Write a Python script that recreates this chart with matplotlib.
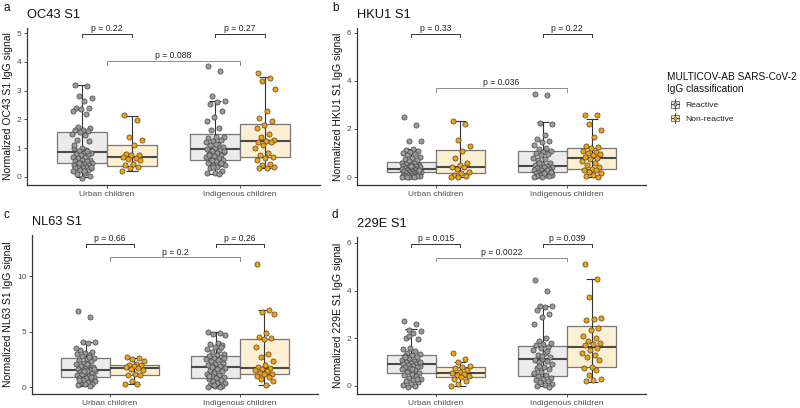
import numpy as np
import matplotlib
matplotlib.use("Agg")
import matplotlib.pyplot as plt
from matplotlib.patches import Patch, Rectangle
from matplotlib.lines import Line2D
from matplotlib.legend_handler import HandlerBase

plt.rcParams['font.family'] = ['Liberation Sans', 'DejaVu Sans']

groups = ["Urban children", "Indigenous children"]
classes = ["Reactive", "Non-reactive"]
titles = ["OC43 S1", "HKU1 S1", "NL63 S1", "229E S1"]
letters = ["a", "b", "c", "d"]
ylabels = ["Normalized OC43 S1 IgG signal", "Normalized HKU1 S1 IgG signal",
           "Normalized NL63 S1 IgG signal", "Normalized 229E S1 IgG signal"]

# box stats per panel: [urban-reactive, urban-nonreactive, indig-reactive, indig-nonreactive]
# (whislo, q1, med, q3, whishi)
box_oc43 = [(0.0, 0.50, 0.88, 1.55, 3.20), (0.22, 0.38, 0.70, 1.10, 2.12),
            (0.10, 0.58, 0.98, 1.48, 2.65), (0.30, 0.70, 1.24, 1.85, 3.47)]
box_hku1 = [(0.0, 0.22, 0.35, 0.62, 1.15), (0.0, 0.18, 0.42, 1.12, 2.35),
            (0.0, 0.20, 0.45, 1.10, 2.28), (0.0, 0.35, 0.80, 1.20, 2.40)]
box_nl63 = [(0.05, 0.90, 1.50, 2.60, 4.05), (0.25, 1.05, 1.70, 1.95, 2.65),
            (0.0, 0.85, 1.80, 2.80, 5.00), (0.15, 1.15, 1.70, 4.30, 6.95)]
box_229e = [(0.0, 0.55, 0.93, 1.30, 2.38), (0.0, 0.38, 0.56, 0.78, 1.02),
            (0.0, 0.42, 1.13, 1.67, 3.37), (0.18, 0.80, 1.62, 2.50, 4.50)]

# individual values
oc43_ur = [3.2, 3.15, 2.8, 2.75, 2.65, 2.4, 2.4, 2.35, 2.3, 2.2, 1.75, 1.7, 1.65, 1.65, 1.6, 1.55,
           1.5, 1.45, 1.3, 1.25, 1.0, 1.0, 0.95, 0.9, 0.85, 0.85, 0.8, 0.8, 0.75, 0.7, 0.7, 0.65,
           0.6, 0.6, 0.55, 0.55, 0.5, 0.5, 0.45, 0.45, 0.4, 0.4, 0.4, 0.35, 0.35, 0.3, 0.3, 0.3,
           0.25, 0.25, 0.2, 0.15, 0.1, 0.05, -0.02, 1.1, 0.9, 0.5, 0.35, 0.2]
oc43_un = [2.17, 1.98, 1.4, 1.3, 1.12, 0.8, 0.78, 0.75, 0.7, 0.65, 0.62, 0.6, 0.45, 0.4, 0.35, 0.3, 0.22]
oc43_ir = [3.87, 3.67, 2.82, 2.65, 2.62, 2.55, 2.28, 2.08, 1.95, 1.7, 1.65, 1.4, 1.38, 1.35, 1.3,
           1.25, 1.2, 1.15, 1.1, 1.05, 1.0, 0.98, 0.95, 0.9, 0.88, 0.85, 0.8, 0.75, 0.72, 0.7, 0.65,
           0.6, 0.58, 0.55, 0.5, 0.45, 0.42, 0.4, 0.35, 0.3, 0.2, 0.15, 0.12, 0.1, 0.6, 0.9, 1.15,
           0.75, 0.5, 0.35]
oc43_in = [3.6, 3.45, 3.35, 3.05, 2.3, 2.05, 1.95, 1.82, 1.7, 1.5, 1.4, 1.3, 1.25, 1.22, 1.2, 1.1,
           1.02, 0.85, 0.75, 0.7, 0.65, 0.6, 0.45, 0.4, 0.35, 0.3, 0.3]

hku1_ur = [2.5, 2.15, 1.52, 1.48, 1.15, 1.12, 1.1, 1.05, 1.0, 0.95, 0.9, 0.85, 0.8, 0.75, 0.7, 0.65,
           0.6, 0.58, 0.55, 0.5, 0.5, 0.45, 0.45, 0.42, 0.4, 0.38, 0.36, 0.35, 0.34, 0.32, 0.3, 0.28,
           0.27, 0.25, 0.24, 0.22, 0.2, 0.2, 0.18, 0.16, 0.15, 0.12, 0.1, 0.1, 0.08, 0.06, 0.05,
           0.04, 0.03, 0.02, 0.01, 0.0, 0.0, 0.3, 0.45]
hku1_un = [2.32, 2.2, 1.55, 1.3, 1.1, 0.8, 0.6, 0.5, 0.42, 0.4, 0.35, 0.2, 0.15, 0.1, 0.05, 0.02, 0.0]
hku1_ir = [3.47, 3.4, 2.25, 2.2, 1.75, 1.6, 1.5, 1.45, 1.35, 1.2, 1.15, 1.1, 1.05, 1.0, 0.95, 0.9,
           0.8, 0.75, 0.7, 0.6, 0.55, 0.5, 0.48, 0.45, 0.42, 0.4, 0.38, 0.35, 0.3, 0.28, 0.25,
           0.22, 0.2, 0.18, 0.15, 0.12, 0.1, 0.1, 0.08, 0.05, 0.03, 0.02, 0.0, 0.3, 0.6, 0.2, 0.15]
hku1_in = [2.6, 2.58, 2.2, 1.95, 1.68, 1.3, 1.25, 1.2, 1.1, 1.05, 1.0, 0.95, 0.9, 0.85, 0.8, 0.75,
           0.65, 0.6, 0.5, 0.4, 0.35, 0.3, 0.28, 0.2, 0.15, 0.1, 0.05, 0.0]

nl63_ur = [6.85, 6.3, 4.1, 4.05, 4.0, 3.3, 3.2, 3.1, 3.0, 2.9, 2.8, 2.6, 2.5, 2.4, 2.3, 2.2, 2.1,
           2.0, 1.9, 1.8, 1.7, 1.6, 1.55, 1.5, 1.45, 1.4, 1.35, 1.3, 1.2, 1.1, 1.0, 0.95, 0.9,
           0.85, 0.8, 0.7, 0.6, 0.5, 0.45, 0.4, 0.3, 0.25, 0.15, 0.05, 1.2, 1.6, 2.1, 0.6, 0.9,
           1.4, 3.5, 2.7]
nl63_un = [2.7, 2.6, 2.55, 2.3, 2.1, 2.0, 1.95, 1.9, 1.8, 1.7, 1.65, 1.5, 1.2, 1.1, 1.05, 0.5, 0.3, 0.25]
nl63_ir = [5.0, 4.9, 4.8, 4.7, 4.0, 3.9, 3.8, 3.6, 3.4, 3.3, 3.2, 3.0, 2.9, 2.8, 2.7, 2.6, 2.5,
           2.4, 2.3, 2.2, 2.1, 2.0, 1.9, 1.8, 1.7, 1.6, 1.5, 1.4, 1.3, 1.2, 1.1, 1.0, 0.9, 0.8,
           0.7, 0.6, 0.5, 0.4, 0.3, 0.2, 0.1, 0.05, 0.0, 0.0, 1.8, 2.6, 0.4, 1.0, 3.6, 0.2]
nl63_in = [11.1, 6.95, 6.8, 6.6, 4.9, 4.5, 4.4, 4.3, 3.6, 3.0, 2.7, 2.3, 2.0, 1.8, 1.7, 1.6, 1.5,
           1.4, 1.3, 1.2, 1.15, 1.0, 0.9, 0.7, 0.5, 0.15]

e229_ur = [2.72, 2.58, 2.35, 2.3, 2.2, 2.0, 1.95, 1.6, 1.55, 1.45, 1.4, 1.35, 1.3, 1.25, 1.2, 1.15,
           1.1, 1.05, 1.0, 0.98, 0.95, 0.93, 0.9, 0.88, 0.85, 0.82, 0.8, 0.78, 0.75, 0.7, 0.65,
           0.6, 0.55, 0.5, 0.45, 0.4, 0.35, 0.3, 0.25, 0.2, 0.15, 0.1, 0.05, 0.0, -0.05, 1.0, 0.7,
           1.2, 0.3, 2.1]
e229_un = [1.38, 1.12, 1.0, 0.85, 0.8, 0.75, 0.65, 0.6, 0.56, 0.5, 0.45, 0.4, 0.38, 0.3, 0.2, 0.08, 0.0]
e229_ir = [4.45, 4.0, 3.37, 3.35, 3.3, 3.2, 3.0, 2.9, 2.6, 2.0, 1.9, 1.8, 1.75, 1.7, 1.65, 1.6, 1.5,
           1.4, 1.3, 1.2, 1.15, 1.1, 1.05, 1.0, 0.9, 0.8, 0.75, 0.7, 0.6, 0.5, 0.45, 0.4, 0.35, 0.3,
           0.25, 0.2, 0.15, 0.1, 0.05, 0.0, -0.05, 1.25, 0.55, 1.45, 0.85]
e229_in = [5.1, 4.48, 3.75, 2.85, 2.8, 2.75, 2.45, 2.35, 2.1, 2.0, 1.9, 1.8, 1.75, 1.7, 1.6, 1.5,
           1.4, 1.3, 1.2, 1.1, 0.8, 0.75, 0.65, 0.45, 0.3, 0.25, 0.2]

# p-values: [urban within, indigenous within, between reactive]
p_oc43 = ["p = 0.22", "p = 0.27", "p = 0.088"]
p_hku1 = ["p = 0.33", "p = 0.22", "p = 0.036"]
p_nl63 = ["p = 0.66", "p = 0.26", "p = 0.2"]
p_229e = ["p = 0.015", "p = 0.039", "p = 0.0022"]

panels = [
    dict(box=box_oc43, pts=[oc43_ur, oc43_un, oc43_ir, oc43_in], p=p_oc43,
         ylim=(-0.28, 5.18), ticks=[0, 1, 2, 3, 4, 5], yw=4.97, yb=4.03,
         rect=(27, 28, 320, 185)),
    dict(box=box_hku1, pts=[hku1_ur, hku1_un, hku1_ir, hku1_in], p=p_hku1,
         ylim=(-0.33, 6.2), ticks=[0, 2, 4, 6], yw=5.96, yb=3.7,
         rect=(357, 28, 646, 185)),
    dict(box=box_nl63, pts=[nl63_ur, nl63_un, nl63_ir, nl63_in], p=p_nl63,
         ylim=(-0.63, 13.7), ticks=[0, 5, 10], yw=12.9, yb=11.7,
         rect=(32, 235, 318, 394)),
    dict(box=box_229e, pts=[e229_ur, e229_un, e229_ir, e229_in], p=p_229e,
         ylim=(-0.34, 6.25), ticks=[0, 2, 4, 6], yw=5.97, yb=5.38,
         rect=(357, 237, 646, 394)),
]

W, H = 800, 408
fig = plt.figure(figsize=(W / 100, H / 100), dpi=100)

fills = ["#EBEBEB", "#FDEFD2"]
pcols = ["#9A9A9A", "#F2A20C"]
dodge = 0.1875
bw = 0.375
jw = 0.075
axis_col = "#333333"
tick_col = "#4D4D4D"

for k, P in enumerate(panels):
    l, t, r, b = P["rect"]
    ax = fig.add_axes([l / W, 1 - b / H, (r - l) / W, (b - t) / H])
    ylo, yhi = P["ylim"]
    yr = yhi - ylo
    positions = []
    stats = []
    for gi in range(2):
        for ci in range(2):
            idx = gi * 2 + ci
            pos = (gi + 1) + (-dodge if ci == 0 else dodge)
            positions.append(pos)
            wl, q1, md, q3, wh = P["box"][idx]
            stats.append(dict(whislo=wl, q1=q1, med=md, q3=q3, whishi=wh, fliers=[]))
    bp = ax.bxp(stats, positions=positions, widths=bw, patch_artist=True,
                showfliers=False, showcaps=False,
                boxprops=dict(linewidth=0.9, edgecolor="#777777"),
                whiskerprops=dict(linewidth=0),
                medianprops=dict(color="#4A4A4A", linewidth=1.5), manage_ticks=False)
    for i, patch in enumerate(bp["boxes"]):
        patch.set_facecolor(fills[i % 2])
        patch.set_zorder(1)
    for m in bp["medians"]:
        m.set_zorder(1.5)
    for i, s in enumerate(stats):
        mid = (s["whislo"] + s["whishi"]) / 2
        half = (s["whishi"] - s["whislo"]) / 2
        ax.errorbar([positions[i]], [mid], yerr=[[half], [half]], fmt="none",
                    ecolor="#333333", elinewidth=0.8, capsize=4.2, capthick=0.8, zorder=2)
    for i, vals in enumerate(P["pts"]):
        vals = np.asarray(vals, dtype=float)
        n = len(vals)
        off = ((np.arange(n) * 0.6180339887 + 0.13) % 1.0 - 0.5) * 2 * jw
        ax.scatter(positions[i] + off, vals, s=14, facecolor=pcols[i % 2],
                   edgecolor="#3A3A3A", linewidths=0.45, zorder=3)
    tip = 0.022 * yr
    for gi in range(2):
        x1, x2 = positions[gi * 2], positions[gi * 2 + 1]
        y = P["yw"]
        ax.plot([x1, x1, x2, x2], [y - tip, y, y, y - tip], color="#333333", lw=0.7,
                clip_on=False, zorder=4)
        ax.text((x1 + x2) / 2, y + 0.004 * yr, P["p"][gi], ha="center", va="bottom",
                fontsize=6.2, color="#222222")
    y = P["yb"]
    ax.plot([1, 1, 2, 2], [y - tip, y, y, y - tip], color="#8C8C8C", lw=0.7,
            clip_on=False, zorder=4)
    ax.text(1.5, y + 0.004 * yr, P["p"][2], ha="center", va="bottom",
            fontsize=6.2, color="#222222")

    ax.set_xlim(0.4, 2.6)
    ax.set_ylim(ylo, yhi)
    ax.set_xticks([1, 2])
    ax.set_xticklabels(groups)
    ax.set_yticks(P["ticks"])
    ax.tick_params(axis="both", labelsize=6, colors=tick_col, length=2.5, width=0.6,
                   pad=1.5)
    ax.tick_params(axis="both", which="both", color=axis_col)
    for sp in ["top", "right"]:
        ax.spines[sp].set_visible(False)
    for sp in ["left", "bottom"]:
        ax.spines[sp].set_color(axis_col)
        ax.spines[sp].set_linewidth(0.9)
    ax.set_ylabel(ylabels[k], fontsize=7.5, color="#111111", labelpad=3)
    ax.set_title(titles[k], loc="left", fontsize=9.3, color="#111111", pad=7)

letter_pos = [(3, 8), (332, 8), (3, 215), (332, 215)]
for (x, y), lt in zip(letter_pos, letters):
    fig.text(x / W, 1 - y / H, lt, fontsize=8.5, color="#111111", ha="left", va="center")


class BoxHandler(HandlerBase):
    def __init__(self, fill, dot):
        super().__init__()
        self.fill = fill
        self.dot = dot

    def create_artists(self, legend, orig_handle, xdescent, ydescent, width, height,
                       fontsize, trans):
        cx = width / 2 - xdescent
        cy = height / 2 - ydescent
        w = width * 0.9
        h = height * 0.85
        rect = Rectangle((cx - w / 2, cy - h / 2), w, h, facecolor=self.fill,
                         edgecolor="#666666", linewidth=0.6, transform=trans)
        vline = Line2D([cx, cx], [cy - h / 2 - 1.5, cy + h / 2 + 1.5], color="#333333",
                       lw=0.6, transform=trans)
        hline = Line2D([cx - w / 2, cx + w / 2], [cy, cy], color="#444444", lw=0.8,
                       transform=trans)
        dot = Line2D([cx], [cy], marker="o", markersize=2.4, markerfacecolor=self.dot,
                     markeredgecolor="#333333", markeredgewidth=0.3, transform=trans)
        return [rect, vline, hline, dot]


fig.text(667 / W, 1 - 83 / H, "MULTICOV-AB SARS-CoV-2\nIgG classification", fontsize=7.3,
         color="#111111", ha="left", va="center", linespacing=1.15)
h1 = Patch(label=classes[0])
h2 = Patch(label=classes[1])
leg = fig.legend(handles=[h1, h2], loc="upper left", bbox_to_anchor=(663 / W, 1 - 93 / H),
                 frameon=False, fontsize=6.1, handlelength=1.0, handleheight=1.0,
                 handletextpad=0.7, labelspacing=0.6,
                 handler_map={h1: BoxHandler(fills[0], pcols[0]),
                              h2: BoxHandler(fills[1], pcols[1])})
for txt in leg.get_texts():
    txt.set_color("#222222")
fig.savefig("out.png", dpi=100)
